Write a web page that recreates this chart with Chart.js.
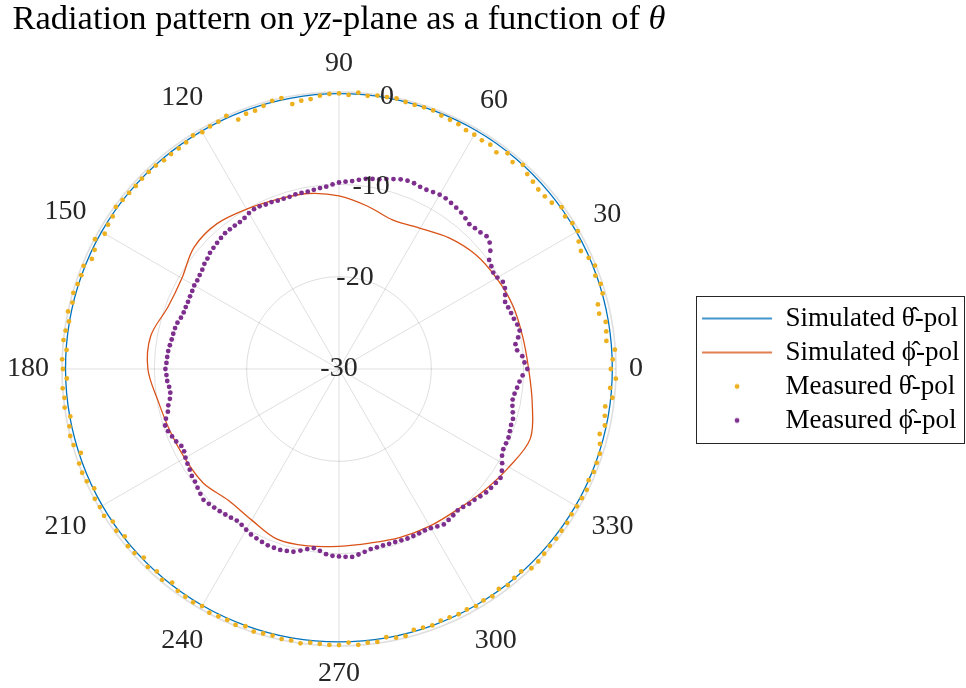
<!DOCTYPE html>
<html>
<head>
<meta charset="utf-8">
<script src="https://cdn.jsdelivr.net/npm/chart.js@4.4.0/dist/chart.umd.min.js"></script>
<style>
  html, body { margin: 0; padding: 0; background: #fff; }
  #wrapper { width: 966px; height: 688px; }
</style>
</head>
<body>
<div id="wrapper"><canvas id="chart"></canvas></div>
<script>
// angles in degrees (counter-clockwise from +y), levels in dB
const simAngles = [0, 10, 20, 30, 40, 50, 60, 70, 80, 90, 100, 110, 120, 130, 140, 150, 160, 170,
  180, 190, 200, 210, 220, 230, 240, 250, 260, 270, 280, 290, 300, 310, 320, 330, 340, 350];
const simTheta = [-0.4, -0.37, -0.33, -0.3, -0.27, -0.23, -0.2, -0.19, -0.18, -0.18, -0.2, -0.22,
  -0.25, -0.27, -0.29, -0.3, -0.33, -0.36, -0.38, -0.39, -0.4, -0.4, -0.41, -0.42, -0.42, -0.43,
  -0.44, -0.45, -0.44, -0.43, -0.42, -0.41, -0.41, -0.4, -0.4, -0.4];
const simPhi = [-9.46, -9.8, -9.95, -10.3, -10.7, -11.45, -12.4, -12.85, -12.1, -11.25, -10.7, -10.45,
  -10.0, -9.45, -9.5, -10.35, -10.3, -9.3, -9.3, -10.1, -10.5, -10.7, -10.8, -11.4, -11.1, -10.4,
  -10.55, -10.8, -10.85, -10.6, -10.35, -10.1, -9.5, -8.75, -7.95, -8.75];

// measurements every 2 degrees, starting at 0
const measStep = 2;
const measTheta = [
  -0.56, -0.34, -0.05, -0.88, -0.77, -0.67, -1.2, -1.1, -0.3, -0.2,
  -0.45, -0.1, -0.4, -0.85, -0.6, -0.15, -0.2, -0.45, -0.2, -0.75,
  -0.9, -0.95, -0.8, -0.65, -0.25, -0.75, -0.35, -1.0, -0.7, -0.8,
  -0.7, -0.7, -0.5, -0.45, -0.4, -0.2, -0.2, -0.25, -0.2, -0.05,
  -0.1, -0.1, -0.25, 0.0, -0.3, -0.15, -0.2, -0.33, -0.6, -0.65,
  -0.87, 0.0, -0.07, -0.35, -0.58, -0.58, -0.87, 0.0, -0.2, -0.25,
  -0.38, -0.18, -0.4, -0.47, -0.46, -0.5, -0.35, -0.33, -0.33, -0.38,
  -0.33, -0.26, -0.13, -0.44, -0.5, -0.7, -0.07, -0.55, -0.7, -0.17,
  -0.3, -0.24, -0.07, -0.25, 0.0, -0.3, -0.1, 0.0, -0.42, 0.0,
  -0.1, -0.5, 0.0, -0.1, 0.0, -0.45, -0.15, 0.0, -0.1, -0.6,
  -0.05, 0.0, -0.1, -0.5, -0.05, -0.1, 0.0, -0.45, -0.2, -0.55,
  -0.15, -0.2, -0.6, -0.2, -0.5, -0.2, -0.65, -0.3, -0.25, -0.2,
  -0.35, -0.1, -0.2, -0.25, -0.1, -0.35, -0.1, -0.2, -0.25, -0.1,
  -0.15, 0.0, -0.2, -0.15, -0.1, -0.1, -0.35, -0.05, -0.2, -0.15,
  -0.5, -0.25, -0.2, -0.6, -0.55, -0.45, -0.6, -0.55, -0.45, -0.5,
  -0.35, -0.45, -0.3, -0.55, -0.3, -0.45, -0.5, 0.0, 0.0, -0.1,
  -0.2, -0.15, -0.2, -0.2, -0.3, -0.25, -0.2, -0.15, -0.4, -0.25,
  -0.3, -0.3, -0.6, -0.9, -0.56, -0.77, -0.88, -0.23, -0.56, 0.0
];
const measPhi = [
  -9.6, -9.9, -10.1, -10.6, -10.7, -10.3, -10.0, -10.1, -10.3, -10.4,
  -10.5, -10.6, -10.3, -10.0, -9.9, -10.2, -10.3, -10.1, -9.9, -9.2,
  -8.7, -8.5, -8.7, -8.8, -8.9, -8.7, -8.5, -8.4, -8.3, -8.2,
  -8.2, -8.3, -8.4, -8.4, -8.3, -8.3, -8.4, -8.6, -8.8, -9.0,
  -9.1, -9.2, -9.4, -9.6, -9.7, -9.8, -10.0, -10.2, -10.3, -10.4,
  -10.5, -10.5, -10.5, -10.6, -10.6, -10.6, -10.5, -10.5, -10.4, -10.4,
  -10.5, -10.7, -10.8, -10.8, -10.8, -10.8, -10.9, -11.0, -11.1, -11.2,
  -11.4, -11.5, -11.7, -11.8, -11.9, -11.9, -12.0, -12.05, -12.1, -12.1,
  -12.1, -12.0, -11.8, -11.7, -11.65, -11.6, -11.5, -11.4, -11.35, -11.3,
  -11.2, -11.3, -11.35, -11.5, -11.55, -11.4, -11.1, -10.9, -10.5, -10.2,
  -10.3, -10.5, -10.7, -11.0, -11.0, -10.8, -10.65, -10.5, -10.3, -10.2,
  -10.0, -9.8, -9.6, -9.7, -9.8, -9.9, -10.0, -10.1, -10.2, -10.1,
  -9.9, -9.7, -9.6, -9.5, -9.4, -9.4, -9.4, -9.5, -9.6, -9.9,
  -10.2, -10.4, -10.2, -9.9, -9.75, -9.7, -9.65, -9.6, -9.8, -10.0,
  -10.2, -10.25, -10.3, -10.3, -10.3, -10.25, -10.2, -10.2, -10.2, -10.2,
  -10.1, -9.9, -9.7, -9.8, -9.9, -10.0, -9.9, -9.7, -9.6, -9.4,
  -9.2, -9.1, -9.0, -8.9, -9.2, -9.6, -10.0, -10.2, -10.2, -10.2,
  -10.3, -10.4, -10.4, -10.6, -10.8, -10.9, -10.8, -10.6, -10.4, -10.1
];

const angleTicks = [0, 30, 60, 90, 120, 150, 180, 210, 240, 270, 300, 330];
const levelTicks = [-30, -20, -10, 0];
const levelTickAngle = 80;

const seriesNames = ['Simulated \u03B8\u0302-pol', 'Simulated \u03D5\u0302-pol',
  'Measured \u03B8\u0302-pol', 'Measured \u03D5\u0302-pol'];
const colors = ['#0072BD', '#D95319', '#EDB120', '#7E2F8E'];

const FONT = '"Liberation Serif", "Times New Roman", serif';
const TEXT = '#262626';

// radar labels run clockwise from the right, so label k is angle (360 - k) mod 360
const labels = [];
for (let k = 0; k < 360; k++) labels.push((360 - k) % 360);

function onGrid(angles, values) {
  const out = new Array(labels.length).fill(null);
  angles.forEach((a, i) => { out[labels.indexOf(a)] = values[i]; });
  return out;
}
const measAngles = measTheta.map((_, i) => i * measStep);

// legend samples: a short line or a single dot
const SAMPLE_W = 86, SAMPLE_LINE_FROM = 16;
function sample(color, dot) {
  const c = document.createElement('canvas');
  c.width = SAMPLE_W; c.height = 12;
  const g = c.getContext('2d');
  if (dot) {
    g.fillStyle = color;
    g.beginPath();
    g.arc((SAMPLE_LINE_FROM + SAMPLE_W) / 2, 6, 2.4, 0, Math.PI * 2);
    g.fill();
  } else {
    g.strokeStyle = color;
    g.lineWidth = 1.3;
    g.beginPath();
    g.moveTo(SAMPLE_LINE_FROM, 6);
    g.lineTo(SAMPLE_W, 6);
    g.stroke();
  }
  return c;
}
const samples = [sample(colors[0]), sample(colors[1]), sample(colors[2], true), sample(colors[3], true)];

const titlePlugin = {
  id: 'mixedTitle',
  afterDraw(chart) {
    const ctx = chart.ctx;
    const parts = [['Radiation pattern on ', ''], ['yz', 'italic '], ['-plane as a function of ', ''], ['\u03B8', 'italic ']];
    ctx.save();
    ctx.fillStyle = '#000';
    ctx.textBaseline = 'alphabetic';
    let total = 0;
    parts.forEach(p => { ctx.font = p[1] + '34.5px ' + FONT; total += ctx.measureText(p[0]).width; });
    let x = chart.scales.r.xCenter - total / 2;
    parts.forEach(p => {
      ctx.font = p[1] + '34.5px ' + FONT;
      ctx.fillText(p[0], x, 29);
      x += ctx.measureText(p[0]).width;
    });
    ctx.restore();
  }
};

// angle labels sit just outside the outer ring, pushed out by their own half size
const angleLabels = {
  id: 'angleLabels',
  afterDraw(chart) {
    const r = chart.scales.r, ctx = chart.ctx;
    ctx.save();
    ctx.font = '28px ' + FONT;
    ctx.fillStyle = TEXT;
    ctx.textAlign = 'center';
    ctx.textBaseline = 'middle';
    angleTicks.forEach(a => {
      const text = String(a);
      const rad = a * Math.PI / 180;
      const hw = ctx.measureText(text).width / 2;
      const dist = r.drawingArea + 13 + hw * Math.abs(Math.cos(rad)) + 15 * Math.abs(Math.sin(rad));
      const p = r.getPointPosition(labels.indexOf(a), dist);
      ctx.fillText(text, p.x, p.y);
    });
    ctx.restore();
  }
};

const levelLabels = {
  id: 'levelLabels',
  afterDatasetsDraw(chart) {
    const r = chart.scales.r, ctx = chart.ctx;
    const idx = labels.indexOf(levelTickAngle);
    ctx.save();
    ctx.font = '28px ' + FONT;
    ctx.fillStyle = TEXT;
    ctx.textAlign = 'center';
    ctx.textBaseline = 'middle';
    levelTicks.forEach(v => {
      const p = r.getPointPositionForValue(idx, v);
      ctx.fillText(String(v), p.x, p.y);
    });
    ctx.restore();
  }
};

const legendBorder = {
  id: 'legendBorder',
  afterDraw(chart) {
    const lg = chart.legend, boxes = lg.legendHitBoxes;
    if (!boxes || !boxes.length) return;
    const fs = lg.options.labels.font.size;
    const first = boxes[0], last = boxes[boxes.length - 1];
    const ctx = chart.ctx;
    const x0 = first.left + SAMPLE_LINE_FROM - 6;
    const y0 = first.top + fs / 2 - 23;
    const y1 = last.top + fs / 2 + 22;
    ctx.save();
    ctx.strokeStyle = '#262626';
    ctx.lineWidth = 1;
    ctx.strokeRect(Math.round(x0) + 0.5, Math.round(y0) + 0.5, Math.round(chart.width - 2 - x0), Math.round(y1 - y0));
    ctx.restore();
  }
};

new Chart('chart', {
  type: 'radar',
  data: {
    labels: labels,
    datasets: [
      { label: seriesNames[0], data: onGrid(simAngles, simTheta), borderColor: colors[0], borderWidth: 1.3,
        pointRadius: 0, spanGaps: true, tension: 0.34, fill: false, clip: false, order: 1 },
      { label: seriesNames[1], data: onGrid(simAngles, simPhi), borderColor: colors[1], borderWidth: 1.3,
        pointRadius: 0, spanGaps: true, tension: 0.34, fill: false, clip: false, order: 1 },
      { label: seriesNames[2], data: onGrid(measAngles, measTheta), showLine: false, pointRadius: 2.4,
        pointBorderWidth: 0, pointBackgroundColor: colors[2], backgroundColor: colors[2], clip: false, order: 0 },
      { label: seriesNames[3], data: onGrid(measAngles, measPhi), showLine: false, pointRadius: 2.4,
        pointBorderWidth: 0, pointBackgroundColor: colors[3], backgroundColor: colors[3], clip: false, order: 0 }
    ]
  },
  options: {
    responsive: true,
    maintainAspectRatio: false,
    animation: false,
    events: [],
    layout: { padding: { top: 92, bottom: 41, left: 0, right: -3.5 } },
    elements: { line: { capBezierPoints: false } },
    scales: {
      r: {
        min: -30,
        max: 0,
        startAngle: 90,
        ticks: { stepSize: 10, display: false },
        grid: {
          circular: true,
          color: 'rgba(38,38,38,0.15)',
          lineWidth: ctx => (ctx.tick && ctx.tick.value === 0) ? 1.6 : 1
        },
        angleLines: {
          color: 'rgba(38,38,38,0.15)',
          lineWidth: ctx => angleTicks.includes(labels[ctx.index]) ? 1 : 0
        },
        pointLabels: { display: false }
      }
    },
    plugins: {
      title: { display: false },
      tooltip: { enabled: false },
      legend: {
        position: 'right',
        labels: {
          usePointStyle: true,
          pointStyleWidth: SAMPLE_W,
          padding: 7,
          color: '#000',
          font: { family: FONT, size: 27 },
          generateLabels: (chart) => chart.data.datasets.map((ds, i) => ({
            text: ds.label, pointStyle: samples[i], datasetIndex: i,
            fillStyle: colors[i], strokeStyle: colors[i], lineWidth: 0, hidden: false, fontColor: '#000'
          }))
        }
      }
    }
  },
  plugins: [titlePlugin, angleLabels, levelLabels, legendBorder]
});
</script>
</body>
</html>
